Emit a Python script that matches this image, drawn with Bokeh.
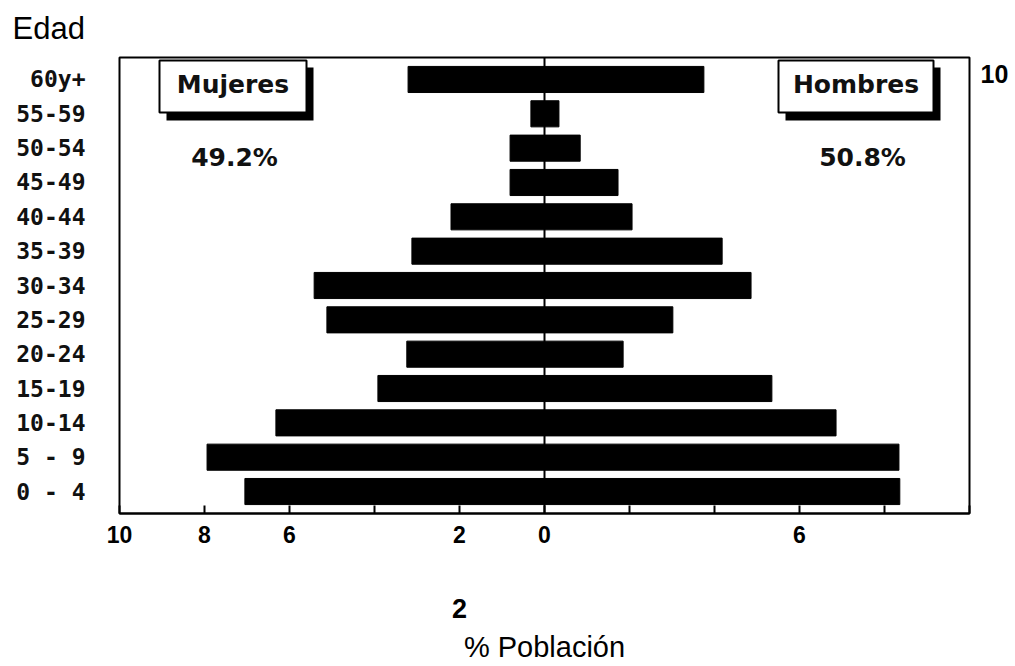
from bokeh.plotting import figure
from bokeh.models import Range1d, FixedTicker, Label, BoxAnnotation, Span, LinearAxis
from bokeh.embed import file_html
from bokeh.resources import INLINE

# ---------------- data ----------------
age_groups = ["0 - 4", "5 - 9", "10-14", "15-19", "20-24", "25-29", "30-34",
              "35-39", "40-44", "45-49", "50-54", "55-59", "60y+"]
mujeres = [7.05, 7.94, 6.32, 3.92, 3.24, 5.12, 5.42, 3.12, 2.20, 0.81, 0.81, 0.32, 3.21]
hombres = [8.36, 8.34, 6.86, 5.35, 1.85, 3.02, 4.86, 4.18, 2.06, 1.73, 0.84, 0.34, 3.75]
x_ticks = [-10, -8, -6, -4, -2, 0, 2, 4, 6, 8, 10]
x_tick_labels = {-10: "10", -8: "8", -6: "6", -2: "2", 0: "0", 6: "6"}
extra_bottom_label = {-2: "2"}
right_label_text = "10"
sex_labels = ["Mujeres", "Hombres"]
share_labels = ["49.2%", "50.8%"]
title_text = "Edad"
axis_title = "% Población"

# ---------------- geometry ----------------
W, H = 1015, 666
FL, FT, FW, FH = 119, 57, 850, 456          # frame in page pixels
X0, X1 = -10, 10
Y0, Y1 = -0.64, 12.64

def dx(ix):  # pixel -> data x
    return X0 + (ix - FL) * (X1 - X0) / FW

def dy(iy):  # pixel -> data y
    return Y0 + (FT + FH - iy) * (Y1 - Y0) / FH

p = figure(width=W, height=H, output_backend="svg", toolbar_location=None,
           x_range=Range1d(X0, X1), y_range=Range1d(Y0, Y1),
           min_border_left=FL, min_border_top=FT,
           min_border_right=W - FL - FW, min_border_bottom=H - FT - FH)
p.background_fill_color = "white"
p.border_fill_color = "white"
p.xgrid.visible = False
p.ygrid.visible = False
p.outline_line_color = "black"
p.outline_line_width = 2

# title
p.title.text = title_text
p.title.align = "left"
p.title.vertical_align = "top"
p.title.offset = -107
p.title.standoff = 19
p.title.text_font = "Liberation Sans"
p.title.text_font_size = "31px"
p.title.text_font_style = "normal"
p.title.text_color = "black"

rows = list(range(len(age_groups)))
p.hbar(y=rows, left=[-v for v in mujeres], right=0, height=0.76, color="black")
p.hbar(y=rows, left=0, right=hombres, height=0.76, color="black")

p.add_layout(Span(location=0, dimension="height", line_color="black", line_width=2))

# y axis with age labels
p.yaxis.ticker = FixedTicker(ticks=rows)
p.yaxis.major_label_overrides = {i: lab for i, lab in enumerate(age_groups)}
p.yaxis.major_tick_out = 0
p.yaxis.major_tick_in = 0
p.yaxis.minor_tick_line_color = None
p.yaxis.axis_line_color = None
p.yaxis.major_label_standoff = 34
p.yaxis.major_label_text_font = "DejaVu Sans Mono"
p.yaxis.major_label_text_font_size = "23px"
p.yaxis.major_label_text_font_style = "bold"
p.yaxis.major_label_text_color = "#111111"

# main x axis: inward ticks
p.xaxis.ticker = FixedTicker(ticks=x_ticks)
p.xaxis.major_tick_in = 8
p.xaxis.major_tick_out = 0
p.xaxis.major_tick_line_width = 2
p.xaxis.minor_tick_line_color = None
p.xaxis.axis_line_width = 2
p.xaxis.major_label_overrides = {t: x_tick_labels.get(t, "") for t in x_ticks}
p.xaxis.major_label_standoff = 12
p.xaxis.major_label_text_font = "Liberation Sans"
p.xaxis.major_label_text_font_size = "23px"
p.xaxis.major_label_text_font_style = "bold"
p.xaxis.major_label_text_color = "black"

# second bottom axis: the lower "2" and the axis title
ax2 = LinearAxis(ticker=FixedTicker(ticks=list(extra_bottom_label.keys())),
                 major_label_overrides=extra_bottom_label,
                 axis_line_color=None, major_tick_line_color=None,
                 major_tick_out=0, major_tick_in=0,
                 minor_tick_line_color=None, minor_tick_out=0, minor_tick_in=0,
                 major_label_standoff=53,
                 major_label_text_font="Liberation Sans",
                 major_label_text_font_size="27px",
                 major_label_text_font_style="bold",
                 major_label_text_color="black",
                 axis_label=axis_title, axis_label_standoff=10,
                 axis_label_text_font="Liberation Sans",
                 axis_label_text_font_size="29px",
                 axis_label_text_font_style="normal",
                 axis_label_text_color="black")
p.add_layout(ax2, "below")

# right axis carrying the stray "10" near the top
ax3 = LinearAxis(ticker=FixedTicker(ticks=[dy(73)]),
                 major_label_overrides={dy(73): right_label_text},
                 axis_line_color=None, major_tick_line_color=None,
                 major_tick_out=0, major_tick_in=0,
                 minor_tick_line_color=None, minor_tick_out=0, minor_tick_in=0,
                 major_label_standoff=11,
                 major_label_text_font="Liberation Sans",
                 major_label_text_font_size="25px",
                 major_label_text_font_style="bold",
                 major_label_text_color="black")
p.add_layout(ax3, "right")

# legend-like boxes with shadows
boxes = [(159, 306), (778, 933)]
for (bl, br), txt in zip(boxes, sex_labels):
    p.add_layout(BoxAnnotation(left=dx(bl + 7), right=dx(br + 7), top=dy(67), bottom=dy(120),
                               fill_color="black", fill_alpha=1, line_color=None))
    p.add_layout(BoxAnnotation(left=dx(bl), right=dx(br), top=dy(60), bottom=dy(112),
                               fill_color="white", fill_alpha=1, line_color="black",
                               line_width=2, line_alpha=1))
    p.add_layout(Label(x=dx((bl + br) / 2), y=dy(84), text=txt, text_align="center",
                       text_baseline="middle", text_font="DejaVu Sans",
                       text_font_size="25px", text_font_style="bold", text_color="#111111"))

share_pos = [(234, 157), (862, 157)]
for txt, (ix, iy) in zip(share_labels, share_pos):
    p.add_layout(Label(x=dx(ix), y=dy(iy), text=txt, text_align="center",
                       text_baseline="middle", text_font="DejaVu Sans",
                       text_font_size="25px", text_font_style="bold", text_color="#111111"))

open("out.html", "w").write(file_html(p, INLINE))
